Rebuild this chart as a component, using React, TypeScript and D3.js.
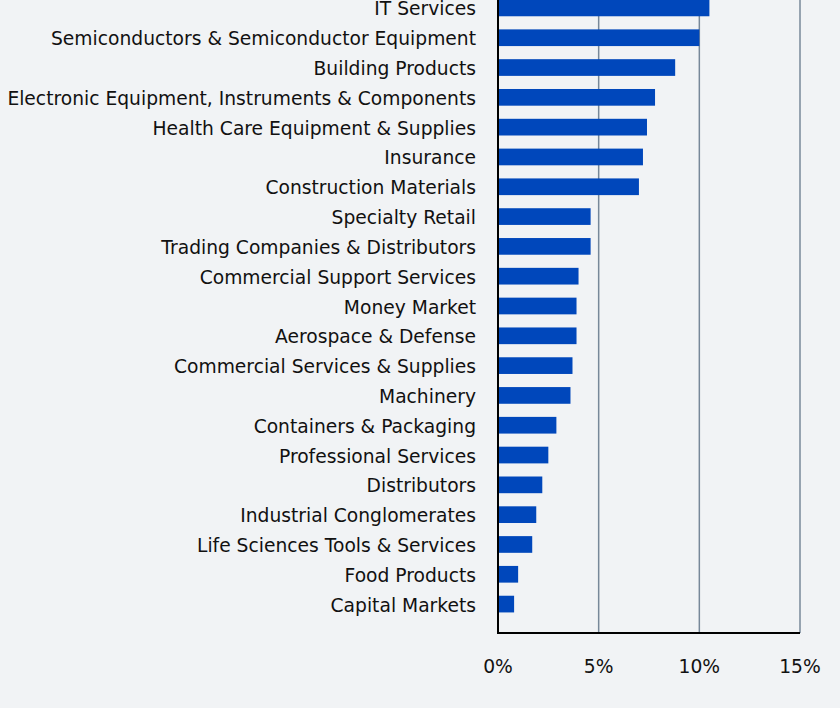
import React from "react";
import * as d3 from "d3";

const categories = [
  "IT Services",
  "Semiconductors & Semiconductor Equipment",
  "Building Products",
  "Electronic Equipment, Instruments & Components",
  "Health Care Equipment & Supplies",
  "Insurance",
  "Construction Materials",
  "Specialty Retail",
  "Trading Companies & Distributors",
  "Commercial Support Services",
  "Money Market",
  "Aerospace & Defense",
  "Commercial Services & Supplies",
  "Machinery",
  "Containers & Packaging",
  "Professional Services",
  "Distributors",
  "Industrial Conglomerates",
  "Life Sciences Tools & Services",
  "Food Products",
  "Capital Markets",
];

const values = [10.5, 10.0, 8.8, 7.8, 7.4, 7.2, 7.0, 4.6, 4.6, 4.0, 3.9, 3.9, 3.7, 3.6, 2.9, 2.5, 2.2, 1.9, 1.7, 1.0, 0.8];

const tickValues = [0, 5, 10, 15];

const W = 840;
const H = 708;

export default function App() {
  const x = d3.scaleLinear().domain([0, 15]).range([498, 800]);
  const y = d3
    .scaleBand<string>()
    .domain(categories)
    .range([-21, 633])
    .paddingInner(0.44)
    .paddingOuter(0.69);
  const font = "DejaVu Sans, Verdana, sans-serif";
  return (
    <svg
      width={W}
      height={H}
      style={{ position: "absolute", left: 0, top: 0, background: "#f1f3f5" }}
    >
      <rect x={0} y={0} width={W} height={H} fill="#f1f3f5" />
      {tickValues
        .filter((t) => t > 0)
        .map((t) => (
          <line
            key={t}
            x1={x(t)}
            x2={x(t)}
            y1={0}
            y2={633}
            stroke="#778899"
            strokeWidth={1.5}
          />
        ))}
      {categories.map((c, i) => (
        <rect
          key={c}
          x={x(0)}
          y={y(c)}
          width={x(values[i]) - x(0)}
          height={y.bandwidth()}
          fill="#0047bb"
        />
      ))}
      <line x1={x(0)} x2={x(0)} y1={0} y2={634} stroke="#000" strokeWidth={2} />
      <line x1={x(0) - 1} x2={x(15)} y1={633} y2={633} stroke="#000" strokeWidth={2} />
      {categories.map((c) => (
        <text
          key={c}
          x={476}
          y={(y(c) as number) + y.bandwidth() / 2 + 1}
          textAnchor="end"
          dominantBaseline="central"
          fontFamily={font}
          fontSize={18.7}
          fill="#111"
        >
          {c}
        </text>
      ))}
      {tickValues.map((t) => (
        <text
          key={t}
          x={x(t)}
          y={666}
          textAnchor="middle"
          dominantBaseline="central"
          fontFamily={font}
          fontSize={18.7}
          fill="#111"
        >
          {d3.format(".0f")(t) + "%"}
        </text>
      ))}
    </svg>
  );
}
